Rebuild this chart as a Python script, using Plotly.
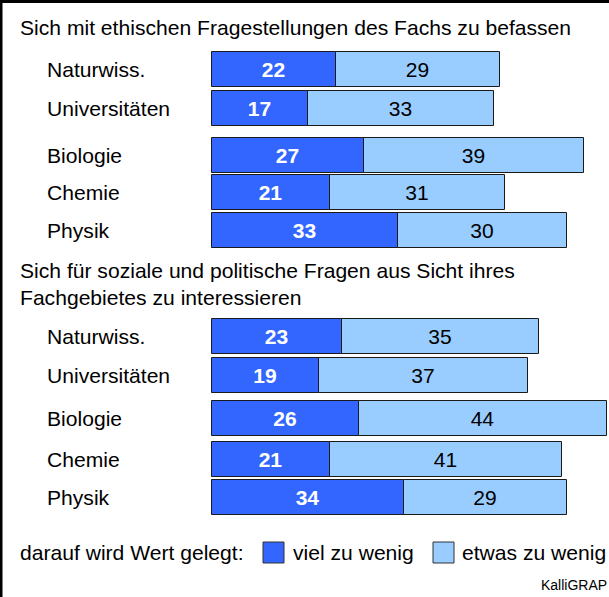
import plotly.graph_objects as go

# data
categories = ['Naturwiss.', 'Universitäten', 'Biologie', 'Chemie', 'Physik']
titles = ['Sich mit ethischen Fragestellungen des Fachs zu befassen',
          'Sich für soziale und politische Fragen aus Sicht ihres<br>Fachgebietes zu interessieren']
viel_ethik = [22, 17, 27, 21, 33]
etwas_ethik = [29, 33, 39, 31, 30]
viel_sozial = [23, 19, 26, 21, 34]
etwas_sozial = [35, 37, 44, 41, 29]
series_names = ['viel zu wenig', 'etwas zu wenig']

# layout (pixel based, page is 609 x 597, top 3px are a css border)
W, H = 609, 597
TOP = 3
X0 = 212          # left edge of bars in px
PX_PER_UNIT = 5.64
rows_1 = [69, 108, 155, 192, 230]
rows_2 = [336, 375, 418, 459, 497]
bar_h = 35
DARK = '#3366FF'
LIGHT = '#99CCFF'
FONT = 'Liberation Sans, Arial, sans-serif'
FS = 21.1

fig = go.Figure()
for rows, viel, etwas in [(rows_1, viel_ethik, etwas_ethik),
                          (rows_2, viel_sozial, etwas_sozial)]:
    fig.add_trace(go.Bar(
        y=rows, x=viel, orientation='h', width=bar_h, name=series_names[0],
        marker=dict(color=DARK, line=dict(color='#1a1a1a', width=1)),
        text=viel, textposition='inside', insidetextanchor='middle',
        textfont=dict(color='white', size=21, family=FONT, weight='bold'),
        showlegend=False, hoverinfo='skip'))
    fig.add_trace(go.Bar(
        y=rows, x=etwas, base=viel, orientation='h', width=bar_h, name=series_names[1],
        marker=dict(color=LIGHT, line=dict(color='#1a1a1a', width=1)),
        text=etwas, textposition='inside', insidetextanchor='middle',
        textfont=dict(color='black', size=21, family=FONT),
        showlegend=False, hoverinfo='skip'))

txt = dict(showarrow=False, xref='paper', yref='y', xanchor='left', yanchor='middle',
           font=dict(size=FS, color='black', family=FONT))
anns = []
for rows in (rows_1, rows_2):
    for cat, yy in zip(categories, rows):
        anns.append(dict(x=45 / W, y=yy, text=cat, **txt))

anns.append(dict(x=18 / W, y=27, text=titles[0], **txt))
anns.append(dict(x=18 / W, y=284, text=titles[1], align='left', **txt))

# legend drawn by hand
anns.append(dict(x=18 / W, y=552, text='darauf wird Wert gelegt:', **txt))
anns.append(dict(x=291 / W, y=552, text=series_names[0], **txt))
anns.append(dict(x=460 / W, y=552, text=series_names[1], **txt))
anns.append(dict(x=1, y=585, xref='paper', yref='y', text='KalliGRAP',
                 showarrow=False, xanchor='right', yanchor='middle',
                 font=dict(size=14, color='black', family=FONT)))

shapes = [
    dict(type='rect', xref='paper', yref='y', x0=263 / W, x1=284 / W, y0=542, y1=563,
         fillcolor=DARK, line=dict(color='#333333', width=1)),
    dict(type='rect', xref='paper', yref='y', x0=433 / W, x1=454 / W, y0=542, y1=563,
         fillcolor=LIGHT, line=dict(color='#333333', width=1)),
    # left edge of the frame
    dict(type='rect', xref='paper', yref='paper', x0=0, x1=2.5 / W, y0=0, y1=1,
         fillcolor='black', line=dict(width=0), layer='above'),
]

fig.update_layout(
    width=W, height=H - TOP, margin=dict(l=0, r=0, t=0, b=0),
    paper_bgcolor='white', plot_bgcolor='white',
    barmode='overlay', bargap=0,
    xaxis=dict(range=[-X0 / PX_PER_UNIT, (W - X0) / PX_PER_UNIT], visible=False, fixedrange=True),
    yaxis=dict(range=[H, TOP], visible=False, fixedrange=True),
    annotations=anns, shapes=shapes,
)

fig.write_html('out.html', config={'displayModeBar': False},
               post_script="document.body.style.margin='0';"
                           "document.body.style.borderTop='3px solid black';")
